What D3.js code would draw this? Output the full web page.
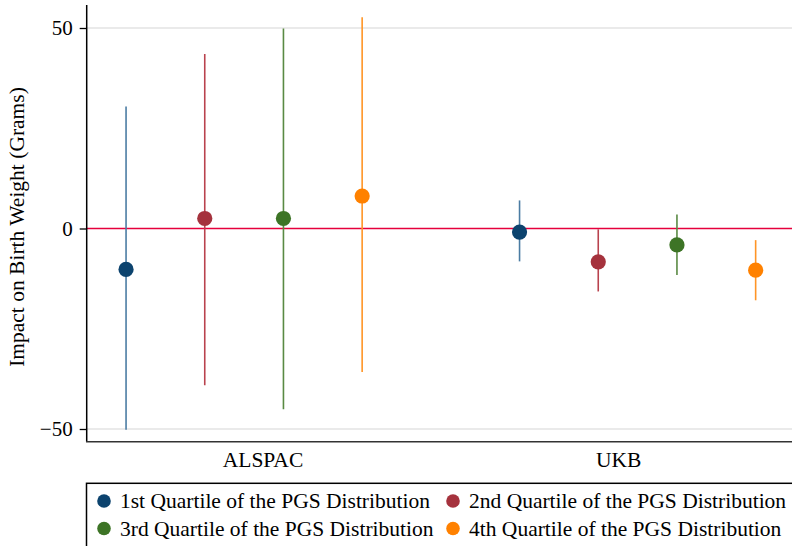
<!DOCTYPE html>
<html><head><meta charset="utf-8"><script src="https://cdn.jsdelivr.net/npm/d3@7"></script></head>
<body style="margin:0">
<script>
// categories and estimates
var groups = ["ALSPAC", "UKB"];
var quartiles = ["1st Quartile of the PGS Distribution", "2nd Quartile of the PGS Distribution",
                 "3rd Quartile of the PGS Distribution", "4th Quartile of the PGS Distribution"];
var estALSPAC = [-10.2, 2.5, 2.5, 8.1];
var lowALSPAC = [-50.2, -39.1, -45.1, -35.8];
var highALSPAC = [30.4, 43.5, 49.9, 52.7];
var estUKB = [-0.9, -8.3, -4.1, -10.4];
var lowUKB = [-8.2, -15.7, -11.6, -17.9];
var highUKB = [7.0, -0.2, 3.5, -2.9];
var yTicks = [-50, 0, 50];
var markerColors = ["#0c436e", "#a5323d", "#3d7426", "#ff8100"];
var lineColors = ["#4b7ca3", "#b9434e", "#5a8a43", "#ff9526"];

var width = 792, height = 546;

var svg = d3.select("body").append("svg")
    .attr("width", width)
    .attr("height", height)
    .style("display", "block");

var plotLeft = 86.7, plotTop = 5, plotBottom = 441.7;

var x = d3.scaleLinear().domain([0.5, 9.5]).range([plotLeft, 795]);
var y = d3.scaleLinear().domain([-50, 50]).range([429, 28]);

function serifText(sel, size) {
    sel.style("font-family", "'Liberation Serif', 'Times New Roman', serif")
        .attr("font-size", size || 21.5)
        .attr("fill", "#000");
}

// build rows: group g, quartile q, x position
var rows = [];
[[estALSPAC, lowALSPAC, highALSPAC], [estUKB, lowUKB, highUKB]].forEach(function(s, g) {
    s[0].forEach(function(v, q) {
        rows.push({ pos: g * 5 + q + 1, q: q, est: v, lo: s[1][q], hi: s[2][q] });
    });
});

// gridlines
svg.selectAll(".grid")
    .data(yTicks)
    .enter().append("line")
    .attr("class", "grid")
    .attr("x1", plotLeft).attr("x2", width)
    .attr("y1", function(d) { return y(d); })
    .attr("y2", function(d) { return y(d); })
    .attr("stroke", "#d6d6d6")
    .attr("stroke-width", 1.2);

// zero reference line
svg.append("line")
    .attr("x1", plotLeft).attr("x2", width)
    .attr("y1", y(0)).attr("y2", y(0))
    .attr("stroke", "#e5003c")
    .attr("stroke-width", 1.5);

// confidence intervals
svg.selectAll(".ci")
    .data(rows)
    .enter().append("line")
    .attr("class", "ci")
    .attr("x1", function(d) { return x(d.pos); })
    .attr("x2", function(d) { return x(d.pos); })
    .attr("y1", function(d) { return y(d.lo); })
    .attr("y2", function(d) { return y(d.hi); })
    .attr("stroke", function(d) { return lineColors[d.q]; })
    .attr("stroke-width", 1.6);

// point estimates
svg.selectAll(".pt")
    .data(rows)
    .enter().append("circle")
    .attr("class", "pt")
    .attr("cx", function(d) { return x(d.pos); })
    .attr("cy", function(d) { return y(d.est); })
    .attr("r", 7.6)
    .attr("fill", function(d) { return markerColors[d.q]; });

// y axis
var yAxis = d3.axisLeft(y).tickValues(yTicks).tickSize(7).tickPadding(7)
    .tickFormat(function(d) { return d < 0 ? "\u2212" + Math.abs(d) : d; });
var yg = svg.append("g")
    .attr("transform", "translate(" + plotLeft + ",0)")
    .call(yAxis);
yg.select(".domain").remove();
yg.selectAll("line").attr("stroke", "#000").attr("stroke-width", 1.3);
yg.selectAll("text").call(serifText, 21);

svg.append("line")
    .attr("x1", plotLeft).attr("x2", plotLeft)
    .attr("y1", plotTop).attr("y2", plotBottom)
    .attr("stroke", "#000").attr("stroke-width", 1.5);

// x axis
svg.append("line")
    .attr("x1", plotLeft - 0.7).attr("x2", width)
    .attr("y1", plotBottom).attr("y2", plotBottom)
    .attr("stroke", "#333").attr("stroke-width", 1.5);

svg.selectAll(".xlab")
    .data(groups)
    .enter().append("text")
    .attr("class", "xlab")
    .attr("x", function(d, i) { return x(i === 0 ? 2.74 : 7.26); })
    .attr("y", 466.5)
    .attr("text-anchor", "middle")
    .call(serifText)
    .text(function(d) { return d; });

// y title
svg.append("text")
    .attr("transform", "translate(24," + 227 + ")rotate(-90)")
    .attr("text-anchor", "middle")
    .call(serifText)
    .text("Impact on Birth Weight (Grams)");

// legend
svg.append("rect")
    .attr("x", 86.5).attr("y", 483.3)
    .attr("width", 720).attr("height", 80)
    .attr("fill", "none")
    .attr("stroke", "#000")
    .attr("stroke-width", 1.5);

var leg = svg.selectAll(".leg")
    .data(quartiles)
    .enter().append("g")
    .attr("class", "leg")
    .attr("transform", function(d, i) {
        return "translate(" + (i % 2 === 0 ? 104 : 453) + "," + (i < 2 ? 501 : 528.5) + ")";
    });

leg.append("circle")
    .attr("r", 6.8)
    .attr("fill", function(d, i) { return markerColors[i]; });

leg.append("text")
    .attr("x", 16)
    .attr("y", 7)
    .call(serifText)
    .text(function(d) { return d; });
</script>
</body>
</html>
